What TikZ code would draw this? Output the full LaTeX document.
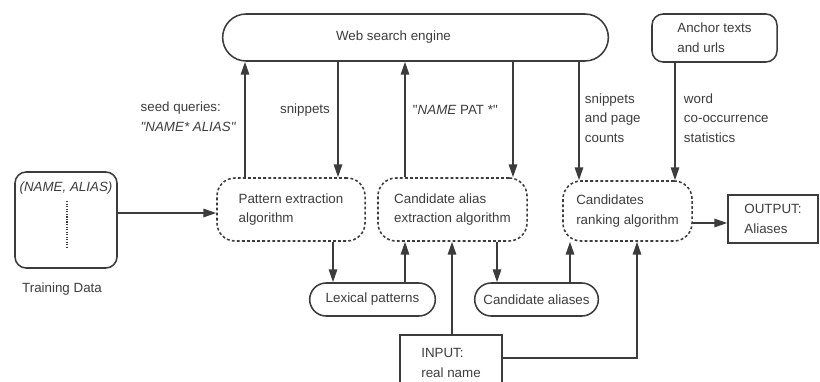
\documentclass[tikz,border=0pt]{standalone}
\usepackage{fontspec}
\setmainfont{Liberation Sans}
\usepackage{xcolor}
\usepackage{tikz}
\usetikzlibrary{arrows.meta, positioning, shapes.misc}

\definecolor{inkgray}{HTML}{3C3C3C}

\begin{document}
\begin{tikzpicture}[
  x=0.025cm, y=-0.025cm,
  every node/.style={font=\fontsize{9.5}{14}\selectfont, text=inkgray},
  solidbox/.style={draw=inkgray, line width=1.1pt, rounded corners=0.28cm, align=left},
  pillbox/.style={draw=inkgray, line width=1.1pt, rounded rectangle, align=center},
  algbox/.style={draw=inkgray, line width=1.1pt, dash pattern=on 2pt off 1.6pt,
                 rounded corners=0.45cm, minimum height=1.575cm, align=left},
  plainbox/.style={draw=inkgray, line width=1.1pt, align=left},
  arr/.style={-{Triangle[length=3.2mm, width=2.1mm]}, draw=inkgray, line width=1.1pt}
]
  \useasboundingbox (0,0) rectangle (820,381);

  % sources and sinks
  \node[pillbox, minimum width=9.875cm, minimum height=1.175cm] (web) at (415.5,37.5) {Web search engine\hspace*{1.1cm}};
  \node[solidbox, minimum width=3.125cm, minimum height=1.2cm] (anchor) at (714.5,38) {Anchor texts\\and urls};
  \node[solidbox, minimum width=2.55cm, minimum height=2.4cm] (train) at (66,220) {};
  \node[font=\fontsize{9.5}{14}\selectfont\itshape] (trtxt) at (66,188) {(NAME, ALIAS)};
  \draw[inkgray, line width=0.8pt, densely dotted] (train.north -| 67,0) ++(0,-0.75cm) -- ++(0,-1.2cm);
  \node (trlab) at (62,289) {Training Data};

  % algorithms
  \node[algbox, minimum width=3.7cm] (pat) at (291,209.5) {Pattern extraction\\algorithm};
  \node[algbox, minimum width=3.725cm] (cand) at (452.5,209.5) {Candidate alias\\extraction algorithm};
  \node[algbox, minimum width=3.225cm, minimum height=1.5cm] (rank) at (627.5,211) {Candidates\\ranking algorithm};
  \node[plainbox, minimum width=2.25cm, minimum height=1.2cm] (out) at (773,219) {OUTPUT:\\Aliases};

  % intermediate results
  \node[pillbox, minimum width=3.375cm, minimum height=0.825cm] (lex) at (372.5,299.5) {Lexical patterns};
  \node[pillbox, minimum width=3.325cm, minimum height=0.825cm] (cal) at (536.5,299.5) {Candidate aliases};
  \node[plainbox, minimum width=2.55cm, minimum height=1.4cm] (inp) at (451,363) {INPUT:\\real name};

  % web traffic
  \draw[arr] (pat.north -| 245,0) -- (web.south -| 245,0);
  \draw[arr] (web.south -| 338,0) -- (pat.north -| 338,0);
  \draw[arr] (cand.north -| 405,0) -- (web.south -| 405,0);
  \draw[arr] (web.south -| 513,0) -- (cand.north -| 513,0);
  \draw[arr] (web.south -| 579,0) -- (rank.north -| 579,0);
  \draw[arr] (anchor.south -| 675,0) -- (rank.north -| 675,0);

  \node[anchor=east, align=left] (seedlab) at (241,117) {seed queries:\\\textit{\textquotedbl NAME* ALIAS\textquotedbl}};
  \node (snlab) at (305,110) {snippets};
  \node[anchor=west] (patlab) at (408,110) {\textquotedbl\textit{NAME} PAT *\textquotedbl};
  \node[anchor=west, align=left] (pglab) at (580,118) {snippets\\and page\\counts};
  \node[anchor=west, align=left] (coolab) at (679,118) {word\\co-occurrence\\statistics};

  % main flow
  \draw[arr] (train.east |- 0,213) -- (pat.west |- 0,213);
  \draw[arr] (pat.south -| 333,0) -- (lex.north -| 333,0);
  \draw[arr] (lex.north -| 405,0) -- (cand.south -| 405,0);
  \draw[arr] (inp.north -| 452,0) -- (cand.south -| 452,0);
  \draw[arr] (cand.south -| 497,0) -- (cal.north -| 497,0);
  \draw[arr] (cal.north -| 570,0) -- (rank.south -| 570,0);
  \draw[arr] (inp.east |- 0,358) -| (rank.south -| 637,0);
  \draw[arr] (rank.east |- 0,223) -- (out.west |- 0,223);
\end{tikzpicture}
\end{document}
